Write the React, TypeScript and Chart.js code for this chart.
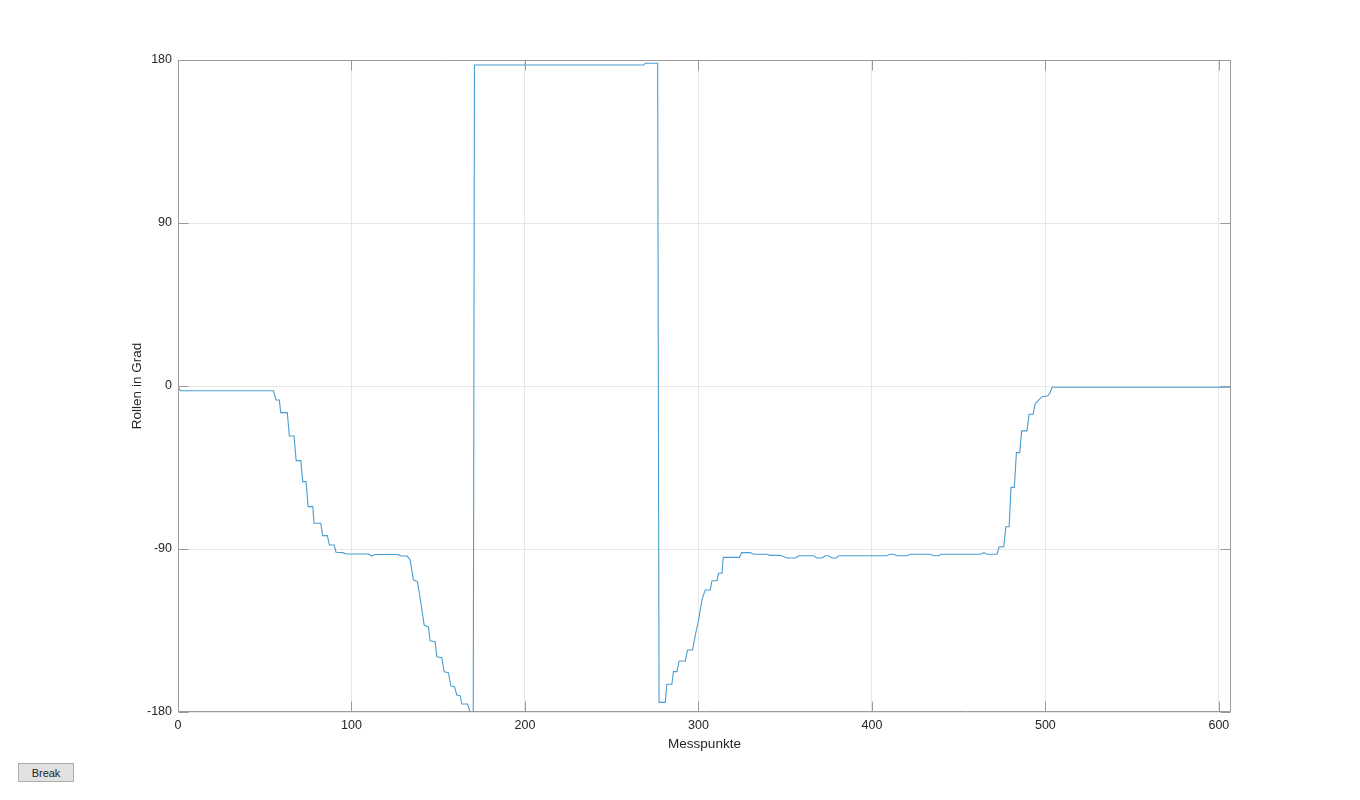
import React, { useEffect, useRef } from "react";
import { Chart, registerables } from "chart.js";

Chart.register(...registerables);

const messpunkte: number[] = [
  0, 1.5, 55.0, 56.5, 58.4, 59.2, 63.0, 64.2, 66.9, 68.1, 70.8, 71.9, 73.8, 75.0, 77.7, 78.4, 82.3, 83.4, 86.1, 87.3,
  90.0, 91.1, 95.0, 96.9, 109.8, 111.7, 113.6, 127.0, 128.4, 132.2, 133.8, 135.7, 138.0, 139.6, 141.9, 144.4, 145.3,
  148.2, 149.2, 152.1, 153.4, 155.9, 157.3, 159.4, 160.7, 162.6, 163.6, 166.9, 168.4, 170.2,
  170.9, 268.4, 269.4, 276.5,
  277.3, 280.9, 281.8, 284.7, 285.6, 287.6, 288.9, 292.4, 293.7, 296.6, 298.2, 300.1, 302.0, 303.9, 306.8, 307.8,
  310.7, 311.6, 313.6, 314.3, 323.7, 324.9, 329.9, 331.8, 339.5, 341.4, 347.2, 351.0, 355.8, 357.7, 366.4, 368.3,
  371.2, 373.1, 375.0, 377.0, 379.5, 380.8, 408.7, 410.2, 412.5, 414.5, 420.2, 422.1, 433.7, 435.6, 438.5, 439.8,
  462.5, 464.6, 466.4, 472.1, 473.3, 476.0, 477.2, 479.1, 480.2, 482.1, 483.3, 485.2, 486.3, 489.4, 490.6, 492.9,
  494.1, 496.2, 498.1, 501.3, 502.5, 503.9, 607,
];

const rollenGrad: number[] = [
  -0.5, -2.6, -2.6, -7.7, -7.7, -14.7, -14.7, -27.6, -27.6, -41.2, -41.2, -52.8, -52.8, -66.6, -66.6, -75.8, -75.8,
  -82.6, -82.6, -87.8, -87.8, -91.8, -92.0, -92.8, -92.8, -93.9, -93.0, -93.0, -93.9, -93.9, -96, -107, -108, -117.2,
  -132, -133, -140.7, -141.2, -149.5, -150, -157.8, -158.3, -165.7, -166, -170.6, -171, -175.6, -175.6, -179.8, -179.8,
  177.2, 177.2, 178.2, 178.2,
  -174.7, -174.7, -164.7, -164.7, -157.7, -157.7, -151.8, -151.8, -145.8, -145.8, -137.5, -129.2, -118.2, -112.6,
  -112.6, -107.5, -107.5, -103.4, -103.4, -94.6, -94.6, -92.0, -92.0, -92.9, -92.9, -93.5, -93.5, -95, -95, -93.7,
  -93.7, -95, -95, -93.7, -93.7, -95, -95, -93.7, -93.7, -92.9, -92.9, -93.7, -93.7, -92.9, -92.9, -93.7, -93.7,
  -92.9, -92.9, -92.0, -92.9, -92.9, -88.9, -88.7, -77.7, -77.7, -56, -56, -36.8, -36.8, -24.8, -24.8, -15.6, -15.6,
  -9.9, -7.7, -5.9, -5.5, -4, -0.7, -0.7,
];

const xTicks: number[] = [0, 100, 200, 300, 400, 500, 600];
const yTicks: number[] = [-180, -90, 0, 90, 180];

const FONT = "'Liberation Sans', Arial, Helvetica, sans-serif";

const boxPlugin = {
  id: "matlabBox",
  afterDraw(chart: any) {
    const { ctx, chartArea: a, scales } = chart;
    const tl = 10;
    ctx.save();
    ctx.strokeStyle = "#9a9a9a";
    ctx.lineWidth = 1;
    ctx.beginPath();
    const L = Math.round(a.left) + 0.5;
    const R = Math.round(a.right) - 0.5;
    const T = Math.round(a.top) + 0.5;
    const B = Math.round(a.bottom) - 0.5;
    ctx.rect(L, T, R - L, B - T);
    for (const v of xTicks) {
      const px = Math.round(scales.x.getPixelForValue(v)) + 0.5;
      ctx.moveTo(px, B);
      ctx.lineTo(px, B - tl);
      ctx.moveTo(px, T);
      ctx.lineTo(px, T + tl);
    }
    for (const v of yTicks) {
      const py = Math.round(scales.y.getPixelForValue(v)) + 0.5;
      ctx.moveTo(L, py);
      ctx.lineTo(L + tl, py);
      ctx.moveTo(R, py);
      ctx.lineTo(R - tl, py);
    }
    ctx.stroke();
    ctx.restore();
  },
};

export default function App() {
  const ref = useRef<HTMLCanvasElement | null>(null);

  useEffect(() => {
    if (!ref.current) return;
    const data = messpunkte.map((x, i) => ({ x, y: rollenGrad[i] }));
    const chart = new Chart(ref.current, {
      type: "line",
      data: {
        datasets: [
          {
            data,
            borderColor: "#4a9dd2",
            borderWidth: 1.1,
            pointRadius: 0,
            fill: false,
            tension: 0,
          },
        ],
      },
      options: {
        animation: false,
        responsive: false,
        maintainAspectRatio: false,
        layout: { padding: { left: 0, top: 60, right: 129, bottom: 0 } },
        plugins: { legend: { display: false }, tooltip: { enabled: false } },
        scales: {
          x: {
            type: "linear",
            min: 0,
            max: 607,
            afterFit: (s: any) => {
              s.height = 88;
            },
            afterBuildTicks: (s: any) => {
              s.ticks = xTicks.map((v) => ({ value: v }));
            },
            ticks: {
              stepSize: 100,
              includeBounds: false,
              padding: 6,
              maxRotation: 0,
              color: "#262626",
              font: { family: FONT, size: 12.5 },
            },
            grid: { color: "#e6e6e6", drawTicks: false, lineWidth: 1 },
            border: { display: false },
            title: {
              display: true,
              text: "Messpunkte",
              color: "#262626",
              font: { family: FONT, size: 13.5 },
              padding: { top: 0, bottom: 47.5 },
            },
          },
          y: {
            type: "linear",
            min: -180,
            max: 180,
            afterFit: (s: any) => {
              s.width = 178;
            },
            afterBuildTicks: (s: any) => {
              s.ticks = yTicks.map((v) => ({ value: v }));
            },
            ticks: {
              stepSize: 90,
              includeBounds: false,
              padding: 6,
              color: "#262626",
              font: { family: FONT, size: 12.5 },
            },
            grid: { color: "#e6e6e6", drawTicks: false, lineWidth: 1 },
            border: { display: false },
            title: {
              display: true,
              text: "Rollen in Grad",
              color: "#262626",
              font: { family: FONT, size: 13.5 },
              padding: { top: 129, bottom: 0 },
            },
          },
        },
      },
      plugins: [boxPlugin],
    });
    return () => chart.destroy();
  }, []);

  return (
    <div style={{ position: "fixed", left: 0, top: 0, width: 1360, height: 800, background: "#fff" }}>
      <canvas ref={ref} width={1360} height={800} style={{ width: 1360, height: 800, display: "block" }} />
      <button
        style={{
          position: "absolute",
          left: 18,
          top: 763,
          width: 56,
          height: 19,
          padding: 0,
          fontFamily: FONT,
          fontSize: 11,
          color: "#222",
          background: "#e1e1e1",
          border: "1px solid #adadad",
          borderRadius: 0,
        }}
      >
        Break
      </button>
    </div>
  );
}
